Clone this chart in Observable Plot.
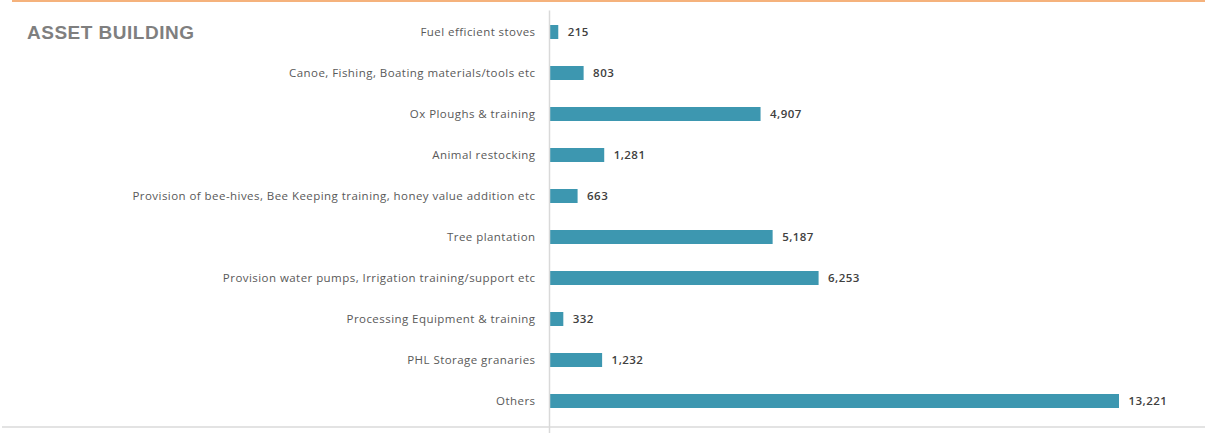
<!DOCTYPE html>
<html>
<head>
<meta charset="utf-8">
<script src="https://cdn.jsdelivr.net/npm/d3@7"></script>
<script src="https://cdn.jsdelivr.net/npm/@observablehq/plot@0.6"></script>
<style>
  html, body { margin: 0; padding: 0; background: #fff; }
  #wrap { position: relative; width: 1205px; height: 433px; overflow: hidden; }
  #topline { position: absolute; left: 12px; top: 0; width: 1193px; height: 2px; background: #f5b27c; }
  #bottomline { position: absolute; left: 2px; top: 426px; width: 1203px; height: 2px; background: #e3e3e3; }
  #title { position: absolute; left: 27px; top: 22px; font-family: "Liberation Sans", Arial, sans-serif; font-weight: bold; font-size: 19px; color: #7f7f7f; letter-spacing: 0.5px; }
  #chart { position: absolute; left: 0; top: 0; }
  #chart svg text { letter-spacing: 0.45px; }
</style>
</head>
<body>
<div id="wrap">
  <div id="topline"></div>
  <div id="bottomline"></div>
  <div id="title">ASSET BUILDING</div>
  <div id="chart"></div>
</div>
<script>
const categories = [
  "Fuel efficient stoves",
  "Canoe, Fishing, Boating materials/tools etc",
  "Ox Ploughs & training",
  "Animal restocking",
  "Provision of bee-hives, Bee Keeping training, honey value addition etc",
  "Tree plantation",
  "Provision water pumps, Irrigation training/support etc",
  "Processing Equipment & training",
  "PHL Storage granaries",
  "Others"
];
const values = [215, 803, 4907, 1281, 663, 5187, 6253, 332, 1232, 13221];

const data = categories.map((c, i) => ({category: c, value: values[i]}));
const fmt = d3.format(",");

const chart = Plot.plot({
  width: 1205,
  height: 433,
  marginLeft: 549,
  marginRight: 86,
  marginTop: 10.5,
  marginBottom: 11.5,
  style: {fontFamily: "'Open Sans', sans-serif", fontSize: "11.5px", color: "#595959", background: "transparent"},
  x: {domain: [0, 13221], axis: null},
  y: {domain: categories, paddingInner: 0.66, paddingOuter: 0.33, label: null, tickSize: 0, tickPadding: 14},
  marks: [
    Plot.barX(data, {y: "category", x: "value", fill: "#3d97b0"}),
    Plot.ruleX([0], {stroke: "#d9d9d9", strokeWidth: 1.5, insetBottom: -12}),
    Plot.text(data, {y: "category", x: "value", text: d => fmt(d.value), dx: 9, textAnchor: "start", fill: "#404040", fontSize: 11.5, fontWeight: 600})
  ]
});
document.getElementById("chart").appendChild(chart);
</script>
</body>
</html>
